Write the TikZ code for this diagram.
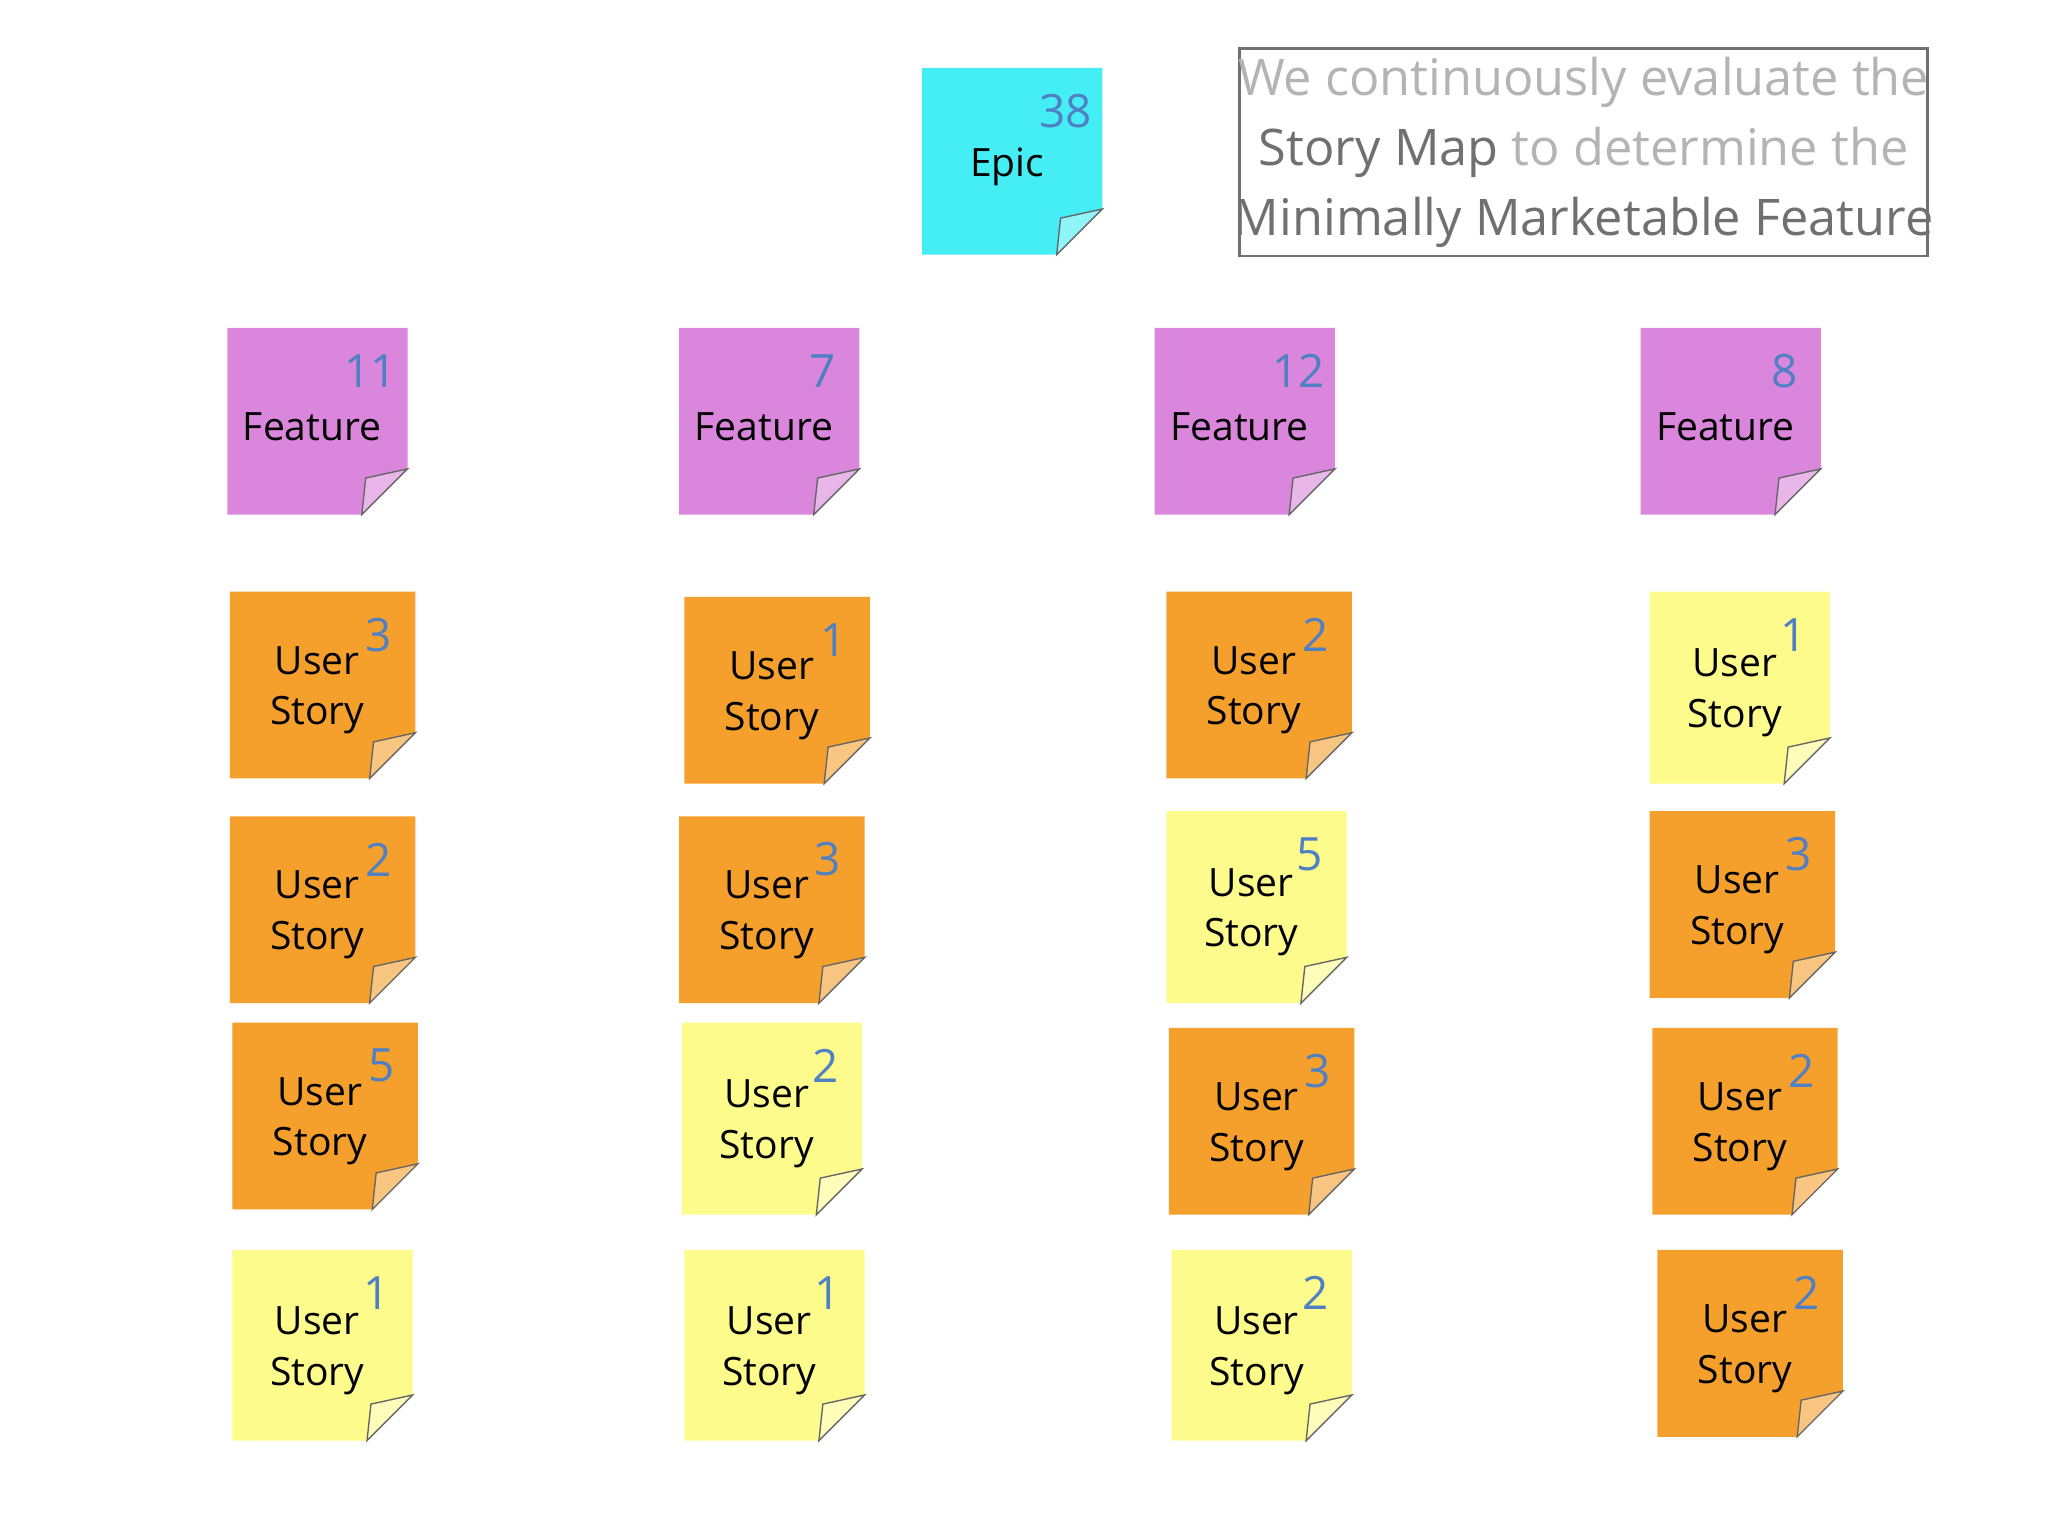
\documentclass[tikz,border=0pt]{standalone}
\usepackage{fontspec}
\setmainfont{Open Sans}
\definecolor{cy}{HTML}{45EEF5}
\definecolor{mg}{HTML}{DA86DC}
\definecolor{og}{HTML}{F5A02C}
\definecolor{yl}{HTML}{FDFB8C}
\definecolor{nb}{HTML}{4F80C4}
\definecolor{lg}{HTML}{B4B4B4}
\definecolor{dg}{HTML}{707070}
\tikzset{
 lbl/.style={font=\fontsize{17}{22}\selectfont, align=center, text=black},
 num/.style={font=\fontsize{20}{24}\selectfont, text=nb},
}
% \snote{name}{x0}{y0}{x1}{y1}{color}{num}{text}
\newcommand{\snote}[8]{%
 \fill[#6] (#2,#3) -- (#4,#3) -- (#4,#5-35) -- (#4-35,#5) -- (#2,#5) -- cycle;
 \fill[#6!60!white, draw=black!60, line width=0.6pt] (#4,#5-35) -- (#4-32,#5-28) -- (#4-35,#5) -- cycle;
 \node[lbl] (#1) at ({(#2+#4)/2-4},{(#3+#5)/2+4}) {#8};
 \node[num] (#1n) at (#4-28,#3+33) {#7};
}
\begin{document}
\begin{tikzpicture}[x=0.02cm,y=-0.02cm]
\useasboundingbox (0,0) rectangle (1568,1176);
\fill[white] (0,0) rectangle (1568,1176);
% epic
\snote{epic}{706}{52}{844}{195}{cy}{38}{Epic}
% features
\snote{f1}{174}{251}{312}{394}{mg}{11}{Feature}
\snote{f2}{520}{251}{658}{394}{mg}{7}{Feature}
\snote{f3}{884}{251}{1022}{394}{mg}{12}{Feature}
\snote{f4}{1256}{251}{1394}{394}{mg}{8}{Feature}
% col1
\snote{a1}{176}{453}{318}{596}{og}{3}{User\\Story}
\snote{a2}{176}{625}{318}{768}{og}{2}{User\\Story}
\snote{a3}{178}{783}{320}{926}{og}{5}{User\\Story}
\snote{a4}{178}{957}{316}{1103}{yl}{1}{User\\Story}
% col2
\snote{b1}{524}{457}{666}{600}{og}{1}{User\\Story}
\snote{b2}{520}{625}{662}{768}{og}{3}{User\\Story}
\snote{b3}{522}{783}{660}{930}{yl}{2}{User\\Story}
\snote{b4}{524}{957}{662}{1103}{yl}{1}{User\\Story}
% col3
\snote{c1}{893}{453}{1035}{596}{og}{2}{User\\Story}
\snote{c2}{893}{621}{1031}{768}{yl}{5}{User\\Story}
\snote{c3}{895}{787}{1037}{930}{og}{3}{User\\Story}
\snote{c4}{897}{957}{1035}{1103}{yl}{2}{User\\Story}
% col4
\snote{d1}{1263}{453}{1401}{600}{yl}{1}{User\\Story}
\snote{d2}{1263}{621}{1405}{764}{og}{3}{User\\Story}
\snote{d3}{1265}{787}{1407}{930}{og}{2}{User\\Story}
\snote{d4}{1269}{957}{1411}{1100}{og}{2}{User\\Story}
% text box
\draw[dg, line width=1.2pt] (949,37) rectangle (1476,196);
\node[font=\fontsize{22}{30.5}\selectfont, align=center, text=lg] (tb) at (1212.5,117)
 {We continuously evaluate the\\\textcolor{dg}{Story Map} to determine the\\\textcolor{dg}{Minimally Marketable Feature}};
\end{tikzpicture}
\end{document}
